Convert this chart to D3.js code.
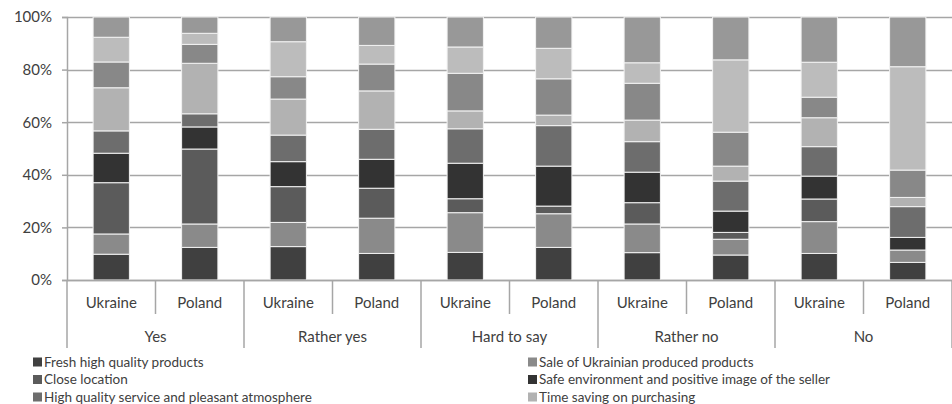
<!DOCTYPE html>
<html>
<head>
<meta charset="utf-8">
<script src="https://cdn.jsdelivr.net/npm/d3@7"></script>
<style>
  body { margin: 0; background: #fff; }
  svg { display: block; font-family: Lato, "Open Sans", sans-serif; }
</style>
</head>
<body>
<div id="chart"></div>
<script>
var width = 952,
    height = 404;

// answer groups and countries (x axis, two levels)
var groups = ["Yes", "Rather yes", "Hard to say", "Rather no", "No"];
var countries = ["Ukraine", "Poland"];

// series in stacking order, bottom to top (last three are cut off in the legend)
var seriesNames = [
  "Fresh high quality products",
  "Sale of Ukrainian produced products",
  "Close location",
  "Safe environment and positive image of the seller",
  "High quality service and pleasant atmosphere",
  "Time saving on purchasing",
  "Other reason 1",
  "Other reason 2",
  "Other reason 3"
];
var seriesColors = ["#404040", "#8a8a8a", "#5b5b5b", "#333333", "#6d6d6d", "#b2b2b2", "#888888", "#bcbcbc", "#989898"];

// shares in %, one value per bar: Yes UA, Yes PL, Rather yes UA, Rather yes PL, ...
var fresh   = [9.8, 12.4, 12.7, 10.1, 10.5, 12.4, 10.4,  9.5, 10.1,  6.7];
var sale    = [7.7,  8.9,  9.2, 13.4, 15.1, 12.8, 10.9,  6.0, 12.1,  4.7];
var close   = [19.5, 28.5, 13.6, 11.4,  5.3,  2.9,  8.1,  2.6,  8.6,  0.0];
var safe    = [11.2,  8.4,  9.5, 11.0, 13.5, 15.2, 11.6,  8.1,  8.7,  4.8];
var service = [8.5,  5.0, 10.1, 11.4, 13.1, 15.4, 11.6, 11.4, 11.2, 11.7];
var timeSav = [16.4, 19.2, 13.7, 14.6,  6.8,  4.0,  8.2,  5.7, 11.0,  3.5];
var other1  = [9.8,  7.2,  8.5, 10.2, 14.3, 13.8, 14.0, 12.9,  7.8, 10.4];
var other2  = [9.4,  4.2, 13.3,  7.1, 10.0, 11.6,  7.8, 27.5, 13.3, 39.3];
var other3  = [7.7,  6.2,  9.4, 10.8, 11.4, 11.9, 17.4, 16.3, 17.2, 18.9];

var yTicks = [0, 20, 40, 60, 80, 100];
var legendShown = 6;

var seriesValues = [fresh, sale, close, safe, service, timeSav, other1, other2, other3];

var bars = [];
groups.forEach(function (g, gi) {
  countries.forEach(function (c, ci) {
    var row = { key: g + "|" + c, group: g, country: c };
    var idx = gi * countries.length + ci;
    var total = d3.sum(seriesValues, function (s) { return s[idx]; });
    seriesNames.forEach(function (n, si) { row[n] = seriesValues[si][idx] / total; });
    bars.push(row);
  });
});

var margin = { top: 17, right: 0, bottom: 124, left: 67 };
var plotW = width - margin.left - margin.right,
    plotH = height - margin.top - margin.bottom;

var svg = d3.select("#chart").append("svg")
    .attr("width", width)
    .attr("height", height);

var g = svg.append("g")
    .attr("transform", "translate(" + margin.left + "," + margin.top + ")");

var x = d3.scaleBand()
    .domain(bars.map(function (d) { return d.key; }))
    .range([0, plotW])
    .paddingInner(0.59)
    .paddingOuter(0.295);

var y = d3.scaleLinear()
    .domain([0, 1])
    .range([plotH, 0]);

var step = x.step();

// gridlines
g.selectAll("line.grid")
    .data(yTicks)
    .enter().append("line")
    .attr("class", "grid")
    .attr("x1", 0)
    .attr("x2", plotW)
    .attr("y1", function (d) { return Math.round(y(d / 100)) + 0.5; })
    .attr("y2", function (d) { return Math.round(y(d / 100)) + 0.5; })
    .attr("stroke", "#a6a6a6")
    .attr("stroke-width", 1.5);

// y axis
var yAxis = g.append("g")
    .call(d3.axisLeft(y)
        .tickValues(yTicks.map(function (d) { return d / 100; }))
        .tickFormat(d3.format(".0%"))
        .tickSize(5)
        .tickPadding(10));
yAxis.select(".domain").attr("stroke", "#a6a6a6").attr("stroke-width", 1.5);
yAxis.selectAll(".tick line").attr("stroke", "#a6a6a6").attr("stroke-width", 1.5);
yAxis.selectAll("text")
    .attr("fill", "#404040")
    .style("font-size", "15px")
    .style("font-family", "Lato, sans-serif");

// stacked bars
var stack = d3.stack().keys(seriesNames);
var layers = stack(bars);

g.selectAll("g.layer")
    .data(layers)
    .enter().append("g")
    .attr("class", "layer")
    .attr("fill", function (d, i) { return seriesColors[i]; })
    .selectAll("rect")
    .data(function (d) { return d; })
    .enter().append("rect")
    .attr("x", function (d) { return x(d.data.key); })
    .attr("width", x.bandwidth())
    .attr("y", function (d) { return y(d[1]); })
    .attr("height", function (d) { return Math.max(0, y(d[0]) - y(d[1])); })
    .attr("stroke", "#f2f2f2")
    .attr("stroke-width", 1);

// x axis: baseline, separators, labels
var axisCol = "#a6a6a6";
g.append("line")
    .attr("x1", 0).attr("x2", plotW)
    .attr("y1", plotH + 0.5).attr("y2", plotH + 0.5)
    .attr("stroke", axisCol).attr("stroke-width", 1.5);

var sepData = d3.range(bars.length + 1);
g.selectAll("line.sep")
    .data(sepData)
    .enter().append("line")
    .attr("class", "sep")
    .attr("x1", function (i) { return i * step; })
    .attr("x2", function (i) { return i * step; })
    .attr("y1", plotH)
    .attr("y2", function (i) { return plotH + (i % countries.length === 0 ? 68 : 34); })
    .attr("stroke", axisCol).attr("stroke-width", 1.5);

g.selectAll("text.country")
    .data(bars)
    .enter().append("text")
    .attr("class", "country")
    .attr("x", function (d) { return x(d.key) + x.bandwidth() / 2; })
    .attr("y", plotH + 23)
    .attr("dy", "0.35em")
    .attr("text-anchor", "middle")
    .attr("fill", "#404040")
    .style("font-size", "15px")
    .text(function (d) { return d.country; });

g.selectAll("text.group")
    .data(groups)
    .enter().append("text")
    .attr("class", "group")
    .attr("x", function (d, i) { return (i + 0.5) * step * countries.length; })
    .attr("y", plotH + 57)
    .attr("dy", "0.35em")
    .attr("text-anchor", "middle")
    .attr("fill", "#404040")
    .style("font-size", "15px")
    .text(function (d) { return d; });

// legend, two columns; only the first rows fit in the frame
var legend = svg.append("g")
    .selectAll("g")
    .data(seriesNames.slice(0, legendShown))
    .enter().append("g")
    .attr("transform", function (d, i) {
      var col = i % 2, row = Math.floor(i / 2);
      return "translate(" + (col === 0 ? 33 : 528) + "," + (362 + row * 17.5) + ")";
    });

legend.append("rect")
    .attr("x", 0).attr("y", -4.5)
    .attr("width", 9).attr("height", 9)
    .attr("fill", function (d, i) { return seriesColors[i]; });

legend.append("text")
    .attr("x", 11)
    .attr("dy", "0.35em")
    .attr("fill", "#404040")
    .style("font-size", "13.5px")
    .text(function (d) { return d; });
</script>
</body>
</html>
